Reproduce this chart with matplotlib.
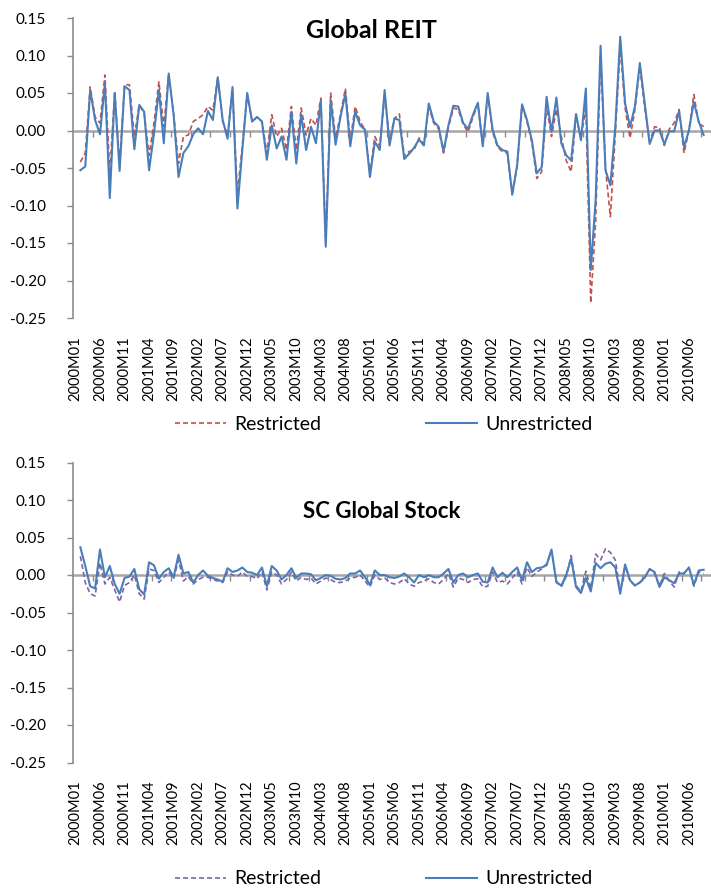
import numpy as np
import matplotlib
matplotlib.use("Agg")
import matplotlib.pyplot as plt
from matplotlib.ticker import FuncFormatter

plt.rcParams['font.family'] = ['Lato', 'DejaVu Sans']

# month categories on the axis (2000M01 .. 2010M10), data starts at 2000M02
n_cat = 130
tick_pos = list(range(0, 130, 5))
tick_labels = ["2000M01", "2000M06", "2000M11", "2001M04", "2001M09", "2002M02",
               "2002M07", "2002M12", "2003M05", "2003M10", "2004M03", "2004M08",
               "2005M01", "2005M06", "2005M11", "2006M04", "2006M09", "2007M02",
               "2007M07", "2007M12", "2008M05", "2008M10", "2009M03", "2009M08",
               "2010M01", "2010M06"]

# Global REIT
reit_unrestricted = [
    -0.053, -0.048, 0.054, 0.014, -0.005, 0.063, -0.090, 0.050, -0.054, 0.059,
    0.054, -0.025, 0.034, 0.025, -0.053, -0.004, 0.054, -0.017, 0.076, 0.021,
    -0.062, -0.030, -0.021, -0.005, 0.003, -0.005, 0.026, 0.014, 0.071, 0.014,
    -0.011, 0.058,
    -0.104, -0.026, 0.050, 0.012, 0.018, 0.012, -0.039, 0.007, -0.024, -0.008,
    -0.039, 0.025, -0.044, 0.021, -0.026, 0.005, -0.017, 0.040, -0.155, 0.040,
    -0.019, 0.018, 0.049, -0.021, 0.025, 0.007, 0.001, -0.062, -0.015, -0.026,
    0.054, -0.020, 0.016,
    0.014, -0.038, -0.031, -0.023, -0.012, -0.020, 0.036, 0.012, 0.005, -0.028,
    0.007, 0.033, 0.032, 0.010, 0.002, 0.021, 0.037, -0.021, 0.050, 0.001,
    -0.020, -0.026, -0.028, -0.085, -0.046, 0.035, 0.014, -0.013, -0.057, -0.049,
    0.045, -0.002, 0.044, -0.017, -0.033, -0.040, 0.022, -0.013, 0.056, -0.186,
    -0.092, 0.113, -0.053, -0.073, 0.005, 0.125, 0.036, 0.005, 0.032, 0.090,
    0.036, -0.018, 0.000, 0.000, -0.018, -0.001, -0.001, 0.026, -0.022, 0.000,
    0.038, 0.012, -0.006]
reit_restricted = [
    -0.042, -0.030, 0.058, 0.018, 0.010, 0.074, -0.057, 0.052, -0.044, 0.061,
    0.061, -0.008, 0.034, 0.023, -0.033, 0.010, 0.065, 0.005, 0.076, 0.023,
    -0.044, -0.008, -0.006, 0.012, 0.016, 0.021, 0.032, 0.027, 0.070, 0.012,
    -0.006, 0.054,
    -0.085, -0.020, 0.048, 0.012, 0.018, 0.012, -0.030, 0.021, -0.008, 0.003,
    -0.026, 0.032, -0.026, 0.030, -0.006, 0.016, 0.007, 0.043, -0.150, 0.050,
    -0.010, 0.021, 0.056, -0.013, 0.032, 0.012, 0.001, -0.057, -0.008, -0.021,
    0.047, -0.013, 0.016,
    0.022, -0.034, -0.028, -0.026, -0.010, -0.018, 0.032, 0.010, 0.002, -0.030,
    0.004, 0.030, 0.028, 0.008, -0.002, 0.018, 0.035, -0.020, 0.048, -0.002,
    -0.022, -0.028, -0.030, -0.087, -0.048, 0.033, 0.012, -0.016, -0.064, -0.055,
    0.032, -0.008, 0.028, -0.008, -0.040, -0.055, 0.020, -0.010, 0.030, -0.230,
    -0.120, 0.100, -0.050, -0.115, -0.005, 0.112, 0.030, -0.010, 0.028, 0.085,
    0.030, -0.015, 0.005, 0.004, -0.020, 0.002, 0.010, 0.028, -0.030, 0.000,
    0.048, 0.010, 0.005]

# SC Global Stock
stock_unrestricted = [
    0.037, 0.012, -0.015, -0.018, 0.034, -0.003, 0.012, -0.012, -0.025, -0.004,
    -0.002, 0.008, -0.019, -0.026, 0.017, 0.013, -0.005, 0.004, 0.009, -0.003,
    0.027, 0.002, 0.004, -0.010, 0.000, 0.006, -0.001, -0.004, -0.006, -0.009,
    0.009, 0.004,
    0.006, 0.010, 0.004, 0.003, 0.000, 0.010, -0.015, 0.012, 0.006, -0.006,
    0.000, 0.009, -0.004, 0.002, 0.002, 0.001, -0.007, -0.004, 0.000, -0.001,
    -0.005, -0.006, -0.004, 0.002, 0.002, 0.006, -0.003, -0.013, 0.006, 0.000,
    0.000, -0.003, -0.004, -0.002, 0.002, -0.003, -0.010, 0.000, -0.003, 0.000,
    -0.003, -0.003, 0.002, 0.008, -0.010, 0.000, 0.002, -0.003, 0.000, 0.002,
    -0.009, -0.010, 0.010, -0.003, 0.003, -0.003, 0.004, 0.010, -0.007, 0.017,
    0.004, 0.009,
    0.010, 0.013, 0.034, -0.010, -0.014, 0.000, 0.022, -0.016, -0.024, -0.004,
    -0.022, 0.016, 0.009, 0.015, 0.017, 0.010, -0.025, 0.014, -0.007, -0.014,
    -0.010, -0.003, 0.008, 0.004, -0.016, -0.003, -0.007, -0.011, 0.002, 0.002,
    0.010, -0.013, 0.006, 0.007]
stock_restricted = [
    0.025, -0.010, -0.025, -0.028, 0.016, -0.012, -0.003, -0.020, -0.036, -0.014,
    -0.010, 0.000, -0.025, -0.032, 0.008, 0.006, -0.010, -0.003, 0.004, -0.005,
    0.020, -0.008, -0.002, -0.012, -0.006, -0.003, -0.003, -0.006, -0.008, -0.010,
    0.004, 0.000,
    -0.002, 0.004, -0.002, -0.002, -0.005, 0.004, -0.020, 0.004, 0.000, -0.012,
    -0.006, 0.004, -0.008, -0.003, -0.006, -0.004, -0.012, -0.008, -0.004, -0.006,
    -0.010, -0.010, -0.008, -0.004, -0.003, 0.000, -0.008, -0.016, 0.000, -0.006,
    -0.004, -0.010, -0.012, -0.010, -0.005, -0.012, -0.015, -0.010, -0.008, -0.005,
    -0.010, -0.012, -0.006, 0.002, -0.016, -0.004, -0.006, -0.010, -0.006, -0.005,
    -0.016, -0.015, 0.004, -0.010, -0.008, -0.012, -0.004, 0.004, -0.012, 0.010,
    -0.002, 0.004,
    0.008, 0.015, 0.032, -0.008, -0.016, -0.002, 0.026, -0.014, -0.022, 0.005,
    -0.018, 0.028, 0.020, 0.035, 0.030, 0.020, -0.022, 0.012, -0.008, -0.014,
    -0.010, -0.004, 0.008, 0.002, -0.014, 0.002, -0.008, -0.016, 0.004, 0.002,
    0.010, -0.015, 0.004, 0.002]

x = np.arange(1, len(reit_unrestricted) + 1)

BLUE = '#4A7EBB'
RED = '#C0504D'
PURPLE = '#8064A2'
GRAY = '#8C8C8C'

fig = plt.figure(figsize=(7.11, 8.9), dpi=100)


def fmt_y(v, pos):
    s = '%.2f' % v
    return '0.00' if s == '-0.00' else s


def style_axes(ax, title, title_xy, title_size):
    ax.set_xlim(-0.5, n_cat - 0.5)
    ax.set_ylim(-0.25, 0.15)
    ax.set_yticks(np.arange(-0.25, 0.151, 0.05))
    ax.yaxis.set_major_formatter(FuncFormatter(fmt_y))
    ax.tick_params(axis='y', length=4.3, width=1, color=GRAY, labelsize=11, pad=15)
    for s in ['top', 'right']:
        ax.spines[s].set_visible(False)
    ax.spines['left'].set_color(GRAY)
    ax.spines['left'].set_linewidth(1.2)
    # category axis crosses at zero
    ax.spines['bottom'].set_position(('data', 0))
    ax.spines['bottom'].set_color('#A6A6A6')
    ax.spines['bottom'].set_linewidth(1.8)
    ax.spines['bottom'].set_zorder(1)
    ax.set_xticks([])
    ax.set_xticks(np.arange(3.5, n_cat, 4), minor=True)
    ax.tick_params(axis='x', which='minor', length=4, width=1, color=GRAY, direction='out')
    sec = ax.secondary_xaxis('bottom')
    sec.set_xticks(tick_pos, tick_labels, rotation=90)
    sec.spines['bottom'].set_visible(False)
    sec.tick_params(length=0, pad=13, labelsize=10.5)
    ax.text(title_xy[0], title_xy[1], title, transform=ax.transAxes,
            ha='center', va='center', fontsize=title_size, fontweight='bold')


ax1 = fig.add_axes([73 / 711, 1 - 318 / 890, 638 / 711, 300 / 890])
l1, = ax1.plot(x, reit_restricted, color=RED, lw=1.2, dashes=(3, 1.8), zorder=3)
l2, = ax1.plot(x, reit_unrestricted, color=BLUE, lw=1.5, zorder=4)
style_axes(ax1, 'Global REIT', ((371 - 73) / 638, 0.96), 18)
fig.legend([l1, l2], ['Restricted', 'Unrestricted'], loc='center',
           bbox_to_anchor=(0.540, 1 - 424 / 890), ncol=2, frameon=False,
           handlelength=2.6, handletextpad=0.45, columnspacing=5.4, fontsize=14)

ax2 = fig.add_axes([73 / 711, 1 - 762.5 / 890, 638 / 711, 300 / 890])
l3, = ax2.plot(x, stock_restricted, color=PURPLE, lw=1.2, dashes=(3, 1.8), zorder=3)
l4, = ax2.plot(x, stock_unrestricted, color=BLUE, lw=1.5, zorder=4)
style_axes(ax2, 'SC Global Stock', ((382 - 73) / 638, 0.835), 16)
fig.legend([l3, l4], ['Restricted', 'Unrestricted'], loc='center',
           bbox_to_anchor=(0.540, 1 - 879 / 890), ncol=2, frameon=False,
           handlelength=2.6, handletextpad=0.45, columnspacing=5.4, fontsize=14)

fig.savefig('out.png', dpi=100)
